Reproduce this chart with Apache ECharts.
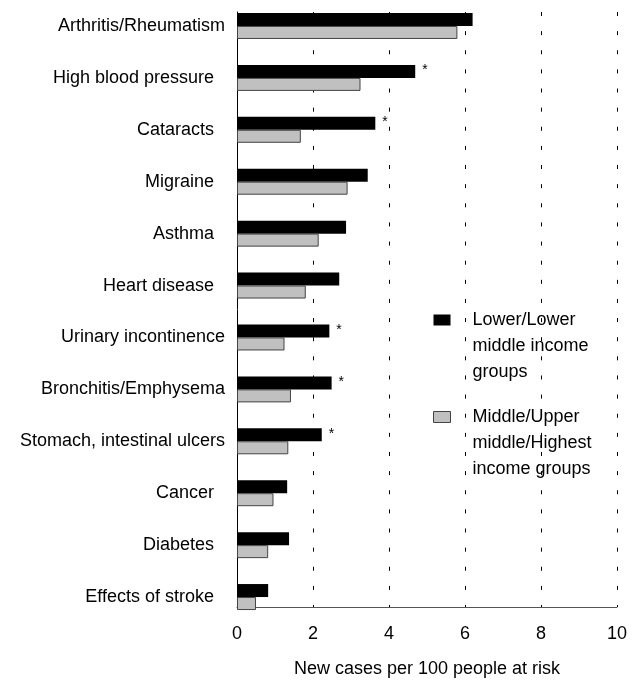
<!DOCTYPE html>
<html><head><meta charset="utf-8">
<script src="https://cdn.jsdelivr.net/npm/echarts@6/dist/echarts.min.js"></script>
<style>html,body{margin:0;padding:0;background:#fff}#c{width:642px;height:683px}</style>
</head><body><div id="c"></div>
<script>
const categories = ['Arthritis/Rheumatism','High blood pressure','Cataracts','Migraine','Asthma','Heart disease','Urinary incontinence','Bronchitis/Emphysema','Stomach, intestinal ulcers','Cancer','Diabetes','Effects of stroke'];
const lowerIncome = [6.20, 4.69, 3.64, 3.44, 2.87, 2.69, 2.43, 2.49, 2.23, 1.32, 1.37, 0.82];
const higherIncome = [5.80, 3.25, 1.68, 2.91, 2.15, 1.81, 1.25, 1.42, 1.35, 0.96, 0.82, 0.50];
const significant = [false, true, true, false, false, false, true, true, true, false, false, false];
const xTicks = [0, 2, 4, 6, 8, 10];
const seriesNames = ['Lower/Lower\nmiddle income\ngroups', 'Middle/Upper\nmiddle/Highest\nincome groups'];
const xName = 'New cases per 100 people at risk';

const FONT = "'Liberation Sans', Arial, sans-serif";
const wide = new Set(['Arthritis/Rheumatism','Urinary incontinence','Bronchitis/Emphysema','Stomach, intestinal ulcers']);

const chart = echarts.init(document.getElementById('c'), null, {renderer: 'canvas'});
chart.setOption({
  animation: false,
  textStyle: {fontFamily: FONT},
  grid: [
    {left: 237, right: 25, top: -4, bottom: 60, containLabel: false},
    {left: 237, right: 25, top: 12, bottom: 74, containLabel: false}
  ],
  legend: {
    orient: 'vertical', left: 428, top: 250,
    itemWidth: 17, itemHeight: 11, itemGap: -33, icon: 'rect',
    data: [
      {name: seriesNames[0], itemStyle: {color: '#000', borderWidth: 0}},
      {name: seriesNames[1], itemStyle: {color: '#c0c0c0', borderColor: '#444', borderWidth: 1}}
    ],
    formatter: n => '\n\n' + n,
    textStyle: {fontSize: 18, color: '#000', lineHeight: 26, padding: [0, 0, 0, 17], fontFamily: FONT}
  },
  xAxis: [
    {gridIndex: 0, type: 'value', min: 0, max: 10, show: false},
    {gridIndex: 1, type: 'value', min: xTicks[0], max: xTicks[xTicks.length-1], interval: xTicks[1]-xTicks[0],
     axisLine: {show: true, lineStyle: {color: '#555', width: 1}},
     axisTick: {show: false},
     axisLabel: {fontSize: 18, color: '#000', margin: 18, fontFamily: FONT},
     splitLine: {show: true, lineStyle: {color: '#000', width: 1, type: [4, 15.13]}},
     name: xName, nameLocation: 'middle', nameGap: 53,
     nameTextStyle: {fontSize: 18, color: '#000', fontFamily: FONT}}
  ],
  yAxis: [
    {gridIndex: 0, type: 'category', inverse: true,
     data: categories.map(c => ({value: c, textStyle: {padding: wide.has(c) ? [0,0,0,0] : [0,11,0,0]}})),
     axisLine: {show: false}, axisTick: {show: false},
     axisLabel: {fontSize: 18, color: '#000', margin: 12, fontFamily: FONT},
     splitLine: {show: false}},
    {gridIndex: 1, type: 'value', min: 0, max: 1,
     axisLine: {show: true, lineStyle: {color: '#000', width: 1}},
     axisTick: {show: false}, axisLabel: {show: false}, splitLine: {show: false}}
  ],
  series: [
    {name: seriesNames[0], type: 'bar', xAxisIndex: 0, yAxisIndex: 0,
     data: lowerIncome, barWidth: 13, barGap: '0%',
     itemStyle: {color: '#000'},
     label: {show: true, position: 'right', distance: 7, offset: [0, -1],
       formatter: p => significant[p.dataIndex] ? '*' : '', fontSize: 14, color: '#000', fontFamily: FONT},
     z: 3},
    {name: seriesNames[1], type: 'bar', xAxisIndex: 0, yAxisIndex: 0,
     data: higherIncome, barWidth: 13, barGap: '0%',
     itemStyle: {color: '#c0c0c0', borderColor: '#444', borderWidth: 1},
     z: 3}
  ]
});
</script></body></html>
